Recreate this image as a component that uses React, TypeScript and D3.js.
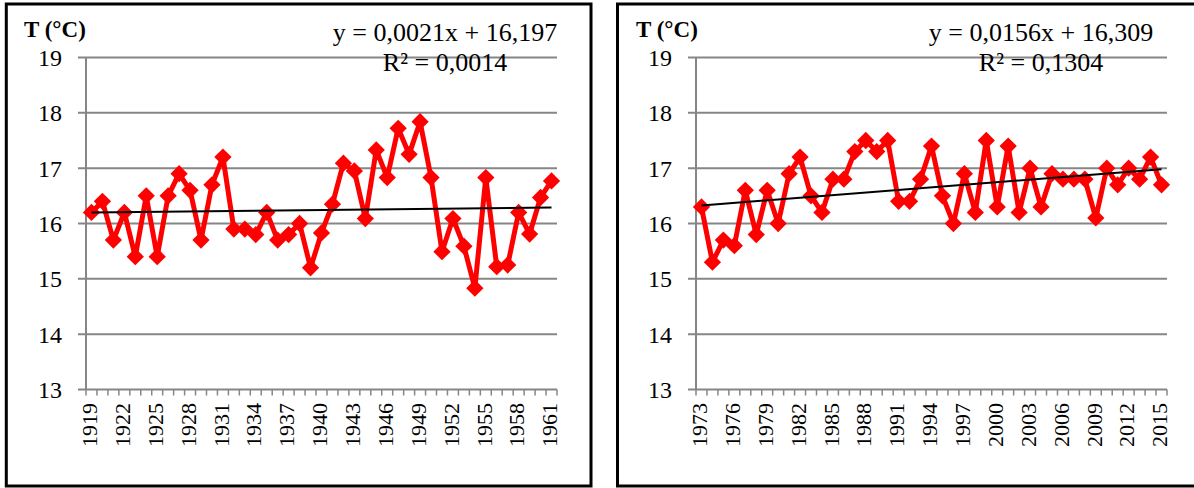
import React, { useEffect, useRef } from 'react';
import * as d3 from 'd3';

// mean annual temperature, two periods
const yearsA = d3.range(1919, 1962);
const tempA = [16.2, 16.4, 15.7, 16.2, 15.4, 16.5, 15.4, 16.5, 16.9, 16.6, 15.7, 16.7, 17.2, 15.9, 15.9,
  15.8, 16.2, 15.7, 15.8, 16.0, 15.2, 15.83, 16.35, 17.09, 16.95, 16.09, 17.33, 16.83, 17.72, 17.25,
  17.84, 16.83, 15.49, 16.09, 15.59, 14.83, 16.83, 15.22, 15.25, 16.2, 15.81, 16.47, 16.77];
const trendA = [0.0021, 16.197];
const eqTextA = ['y = 0,0021x + 16,197', 'R² = 0,0014'];

const yearsB = d3.range(1973, 2016);
const tempB = [16.3, 15.3, 15.7, 15.6, 16.6, 15.8, 16.6, 16.0, 16.9, 17.2, 16.5, 16.2, 16.8, 16.8, 17.3,
  17.5, 17.3, 17.5, 16.4, 16.4, 16.8, 17.4, 16.5, 16.0, 16.9, 16.2, 17.5, 16.3, 17.4, 16.2, 17.0, 16.3,
  16.9, 16.8, 16.8, 16.8, 16.1, 17.0, 16.7, 17.0, 16.8, 17.2, 16.7];
const trendB = [0.0156, 16.309];
const eqTextB = ['y = 0,0156x + 16,309', 'R² = 0,1304'];

const yTicks = [13, 14, 15, 16, 17, 18, 19];
const yLabel = 'T (°C)';

const font = 'Liberation Serif';
const gridColor = '#868686';

function drawPanel(svg, data, s) {
  const g = svg.append('g').attr('font-family', font);

  g.append('rect')
    .attr('x', s.frame[0]).attr('y', 4)
    .attr('width', s.frame[1] - s.frame[0]).attr('height', 482)
    .attr('fill', 'white').attr('stroke', 'black').attr('stroke-width', 3);

  var x = d3.scaleBand().domain(data.years).range([s.left, s.right]);
  var y = d3.scaleLinear().domain([13, 19]).range([389.5, 57.5]);
  const cx = (d) => x(d) + x.bandwidth() / 2;

  // grid lines (the 13 one doubles as the x axis)
  g.selectAll('line.grid').data(yTicks).enter().append('line')
    .attr('x1', s.left - 8).attr('x2', s.right)
    .attr('y1', (d) => y(d)).attr('y2', (d) => y(d))
    .attr('stroke', gridColor).attr('stroke-width', 2);

  g.append('line')
    .attr('x1', s.left).attr('x2', s.left)
    .attr('y1', y(19)).attr('y2', y(13))
    .attr('stroke', gridColor).attr('stroke-width', 2);

  // category ticks
  const bounds = data.years.map((d) => x(d)).concat([s.right]);
  g.selectAll('line.xtick').data(bounds).enter().append('line')
    .attr('x1', (d) => d).attr('x2', (d) => d)
    .attr('y1', y(13)).attr('y2', y(13) + 6)
    .attr('stroke', gridColor).attr('stroke-width', 1.5);

  g.selectAll('text.ylab').data(yTicks).enter().append('text')
    .attr('x', s.left - 24).attr('y', (d) => y(d))
    .attr('dy', '0.35em').attr('text-anchor', 'end')
    .attr('font-size', 24)
    .text((d) => d);

  g.selectAll('text.xlab').data(data.years.filter((d, i) => i % 3 === 0)).enter().append('text')
    .attr('transform', (d) => 'translate(' + (cx(d) - 2) + ',403) rotate(-90)')
    .attr('dy', '0.35em').attr('text-anchor', 'end')
    .attr('font-size', 22)
    .text((d) => d);

  const pts = data.years.map((d, i) => [cx(d), y(data.temp[i])]);
  g.append('path')
    .attr('d', d3.line()(pts))
    .attr('fill', 'none').attr('stroke', '#ff0000').attr('stroke-width', 5)
    .attr('stroke-linejoin', 'round');

  g.append('g').selectAll('path').data(pts).enter().append('path')
    .attr('d', d3.symbol(d3.symbolDiamond2, 190)())
    .attr('transform', (p) => 'translate(' + p[0] + ',' + p[1] + ')')
    .attr('fill', '#ff0000');

  // linear trend, x = 1..n like Excel
  const n = data.years.length;
  g.append('line')
    .attr('x1', cx(data.years[0])).attr('x2', cx(data.years[n - 1]))
    .attr('y1', y(data.trend[1] + data.trend[0] * 1))
    .attr('y2', y(data.trend[1] + data.trend[0] * n))
    .attr('stroke', 'black').attr('stroke-width', 2);

  g.append('text')
    .attr('x', s.titleX).attr('y', 37)
    .attr('font-size', 23).attr('font-weight', 'bold')
    .text(yLabel);

  g.append('text')
    .attr('x', s.eqX).attr('y', 41).attr('text-anchor', 'middle')
    .attr('font-size', 26)
    .text(data.eq[0]);
  g.append('text')
    .attr('x', s.eqX).attr('y', 71).attr('text-anchor', 'middle')
    .attr('font-size', 26)
    .text(data.eq[1]);
}

export default function App() {
  const ref = useRef(null);

  useEffect(() => {
    const svg = d3.select(ref.current);
    svg.selectAll('*').remove();
    drawPanel(svg, { years: yearsA, temp: tempA, trend: trendA, eq: eqTextA },
      { frame: [6.3, 591], left: 86, right: 557, titleX: 24, eqX: 445 });
    drawPanel(svg, { years: yearsB, temp: tempB, trend: trendB, eq: eqTextB },
      { frame: [617.5, 1197], left: 696, right: 1167, titleX: 636, eqX: 1041 });
  }, []);

  return (
    <svg ref={ref} width={1194} height={488}
      style={{ position: 'absolute', left: 0, top: 0, background: 'white' }} />
  );
}
